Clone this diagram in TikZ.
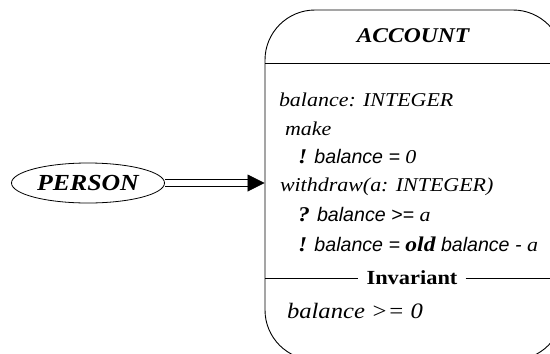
\documentclass[tikz,border=0pt]{standalone}
\usepackage{fontspec}
\setmainfont{Liberation Serif}[FakeStretch=1.12]
\setsansfont{Liberation Sans}
\usetikzlibrary{shapes.geometric,arrows.meta}
\newcommand{\kw}[1]{{\fontsize{21}{22}\selectfont\bfseries #1}}
\tikzset{
  lbl/.style={inner sep=0pt, outer sep=0pt, anchor=base west, font=\fontsize{19.6}{22}\selectfont\itshape},
  classbox/.style={draw, line width=0.9pt, rounded corners=50pt, minimum width=298pt, minimum height=350pt, inner sep=0pt},
  sep/.style={line width=0.9pt},
}
\begin{document}
\begin{tikzpicture}[x=1pt,y=-1pt]
\useasboundingbox (0,0) rectangle (550,354);
\clip (0,0) rectangle (550,354);
\node[classbox] (account) at (414,185) {};
\node[font=\fontsize{21}{24}\selectfont\bfseries\itshape, anchor=base, inner sep=0pt] (title) at (413,42) {ACCOUNT};
\coordinate (s1w) at (265,63);
\coordinate (s1e) at (563,63);
\draw[sep] (s1w) -- (s1e);
\node[lbl] (attr) at (279,106) {balance: INTEGER};
\node[lbl] (make) at (285,135) {make};
\node[lbl] (post1) at (298,163) {\kw{!} \textsf{balance = }0};
\node[lbl] (withdraw) at (280,191) {withdraw(a: INTEGER)};
\node[lbl] (pre2) at (298,221) {\kw{?} \textsf{balance >= }a};
\node[lbl] (post2) at (298,251) {\kw{!} \textsf{balance = }\kw{old} \textsf{balance - }a};
\node[font=\fontsize{20}{24}\selectfont\bfseries, anchor=base, inner xsep=8pt, inner ysep=0pt] (inv) at (412,284) {Invariant};
\coordinate (s2w) at (265,278);
\coordinate (s2e) at (563,278);
\draw[sep] (s2w) -- (inv.west |- s2w);
\draw[sep] (inv.east |- s2e) -- (s2e);
\node[lbl, font=\fontsize{22}{26}\selectfont\itshape] (invexpr) at (287,318) {balance >= 0};
\node[draw, ellipse, line width=0.8pt, minimum width=153pt, minimum height=40pt, inner sep=0pt, font=\fontsize{23}{26}\selectfont\bfseries\itshape] (person) at (88,183) {PERSON};
\draw[line width=0.8pt, double distance=5.5pt, -{Triangle[length=17pt,width=17pt]}] (person.east) -- (person.east -| account.west);
\end{tikzpicture}
\end{document}
